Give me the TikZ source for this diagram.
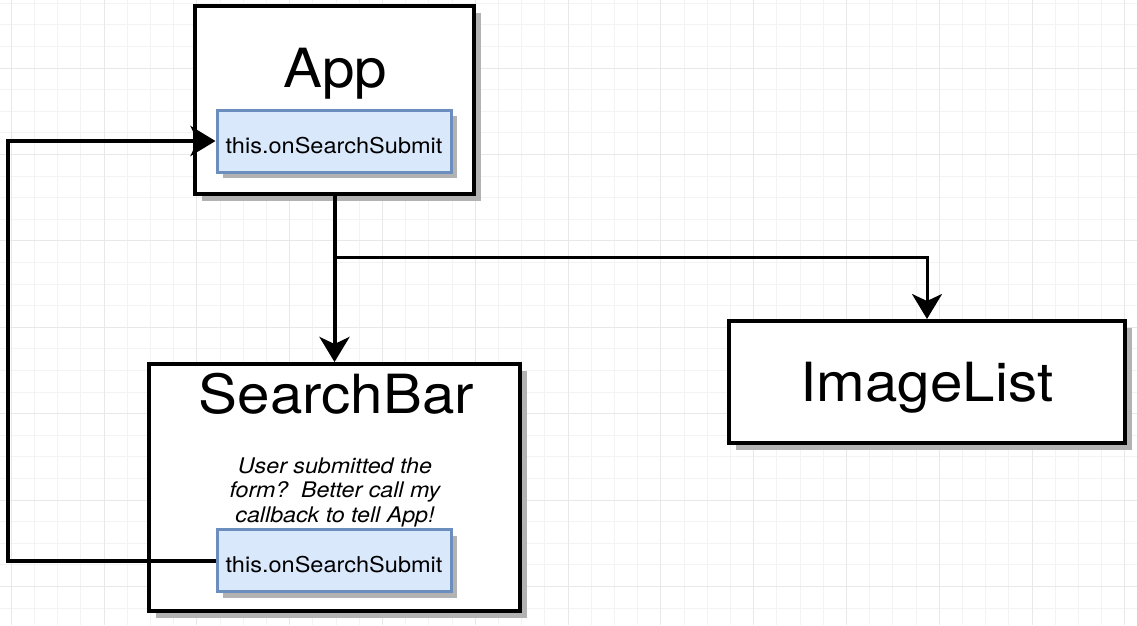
\documentclass[tikz,border=0pt]{standalone}
\usepackage{fontspec}
\setmainfont{TeX Gyre Heros}[FakeStretch=1.08]
\usepackage{xcolor}
\usetikzlibrary{arrows.meta}
\usetikzlibrary{shadows}
\definecolor{propfill}{HTML}{DAE8FC}
\definecolor{propedge}{HTML}{6C8EBF}
\definecolor{gridminor}{HTML}{F3F3F3}
\definecolor{gridmajor}{HTML}{E8E8E8}
\tikzstyle{compbox} = [draw=black, fill=white, line width=4pt, rectangle,
drop shadow={shadow xshift=6.5pt, shadow yshift=-6.5pt, fill=black!30, opacity=1}]
\tikzstyle{propbox} = [draw=propedge, fill=propfill, line width=3pt, rectangle,
minimum width=234pt, minimum height=62pt, inner sep=0pt, text height=24pt, text depth=0pt,
font=\fontsize{21.8}{26}\selectfont,
drop shadow={shadow xshift=6pt, shadow yshift=-6pt, fill=black!30, opacity=1}]
\tikzstyle{heading} = [font=\fontsize{54}{60}\selectfont, anchor=base]
\tikzstyle{note} = [font=\fontsize{21.5}{24.5}\selectfont\itshape, align=center]
\tikzstyle{wire} = [line width=4pt]
\tikzstyle{thinwire} = [line width=3pt]
\tikzstyle{headed} = [-{Stealth[length=25pt, width=30pt, inset=7pt]}]

\begin{document}
\begin{tikzpicture}[x=1pt, y=-1pt]
        \fill [white] (0,0) rectangle (1137,625);
        \useasboundingbox (0,0) rectangle (1137,625);
        \foreach \i in {0,...,48}
            \draw [gridminor, line width=1pt] ({11.2+23.2*\i},0) -- ({11.2+23.2*\i},625);
        \foreach \j in {0,...,28}
            \draw [gridminor, line width=1pt] (0,{3.2+21.6*\j}) -- (1137,{3.2+21.6*\j});
        \foreach \i in {0,...,12}
            \draw [gridmajor, line width=1pt] ({11.2+92.8*\i},0) -- ({11.2+92.8*\i},625);
        \foreach \j in {0,...,6}
            \draw [gridmajor, line width=1pt] (0,{68+86.4*\j}) -- (1137,{68+86.4*\j});

        \node [compbox, minimum width=279pt, minimum height=188pt] (app) at (334.5,100) {};
        \node [propbox] (appcb) at (334,141) {this.onSearchSubmit};
        \node [heading] (apptitle) at (335,87) {App};

        \node [compbox, minimum width=371pt, minimum height=247pt] (bar) at (334.5,487.5) {};
        \node [heading] (bartitle) at (336.5,413) {SearchBar};
        \node [note] (barnote) at (335,492) {User submitted the\\form?\ \ Better call my\\callback to tell App!};
        \node [propbox] (barcb) at (334,560.5) {this.onSearchSubmit};

        \node [compbox, minimum width=396pt, minimum height=122pt,
            font=\fontsize{54}{60}\selectfont, text depth=0pt] (imagelist) at (927,382) {ImageList};

        \coordinate (fork) at (334.5,257);
        \coordinate (back) at (8,350);
        \draw [wire, headed] (app) -- (bar);
        \draw [thinwire, headed] (fork) -| (imagelist);
        \draw [wire, headed] (barcb) -| (back) |- (appcb);
    \end{tikzpicture}
\end{document}
